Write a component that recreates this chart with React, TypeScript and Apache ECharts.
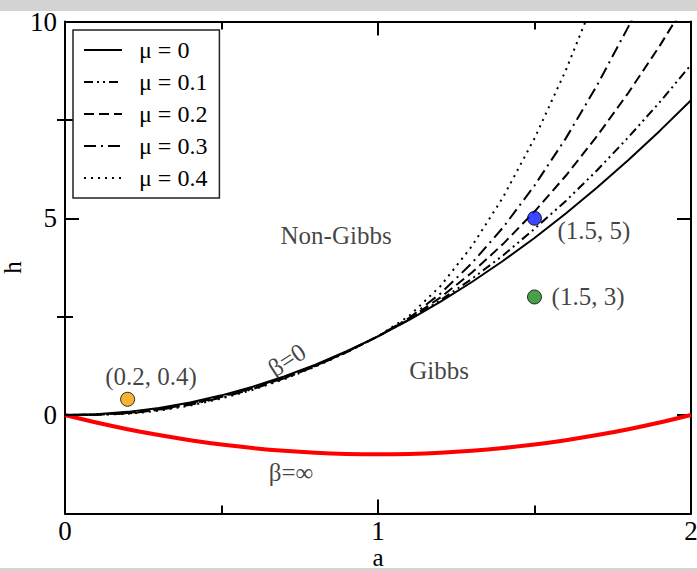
import React, { useEffect, useRef } from "react";
import * as echarts from "echarts";

// a values shared by all curves
const aValues = [0, 0.1, 0.2, 0.3, 0.4, 0.5, 0.6, 0.7, 0.8, 0.9, 1.0, 1.1, 1.2, 1.3, 1.4, 1.5, 1.6, 1.7, 1.8, 1.9, 2.0];

// beta = 0 boundary for several mu values
const hMu0 = [0, 0.02, 0.08, 0.18, 0.32, 0.5, 0.72, 0.98, 1.28, 1.62, 2.0, 2.42, 2.88, 3.38, 3.92, 4.5, 5.12, 5.78, 6.48, 7.22, 8.0];
const hMu1 = [0, 0.01, 0.06, 0.16, 0.30, 0.48, 0.70, 0.96, 1.26, 1.61, 2.0, 2.43, 2.92, 3.46, 4.06, 4.73, 5.44, 6.22, 7.06, 7.95, 8.9];
const hMu2 = [0, 0.01, 0.05, 0.14, 0.28, 0.46, 0.68, 0.94, 1.25, 1.60, 2.0, 2.45, 2.99, 3.62, 4.35, 5.17, 6.08, 7.09, 8.19, 9.38, 10.67];
const hMu3 = [0, 0.01, 0.04, 0.13, 0.26, 0.44, 0.66, 0.93, 1.24, 1.60, 2.0, 2.47, 3.09, 3.86, 4.77, 5.83, 7.03, 8.38, 9.87, 11.51, 13.3];
const hMu4 = [0, 0.005, 0.03, 0.11, 0.24, 0.42, 0.64, 0.91, 1.23, 1.59, 2.0, 2.52, 3.28, 4.29, 5.54, 7.03, 8.76, 10.73, 12.94];

// beta = infinity boundary
const hInf = [0, -0.19, -0.36, -0.51, -0.64, -0.75, -0.84, -0.91, -0.96, -0.99, -1.0, -0.99, -0.96, -0.91, -0.84, -0.75, -0.64, -0.51, -0.36, -0.19, 0];

const muNames = ["μ = 0", "μ = 0.1", "μ = 0.2", "μ = 0.3", "μ = 0.4"];

// sample points
const pointA = [0.2, 1.5, 1.5];
const pointH = [0.4, 5, 3];
const pointColors = ["#f5a000", "#0a1aff", "#1a8a1a"];

// annotations (data coordinates)
const noteTexts = ["Non-Gibbs", "Gibbs", "β=0", "β=∞", "(0.2, 0.4)", "(1.5, 5)", "(1.5, 3)"];
const noteA = [0.866, 1.195, 0.709, 0.722, 0.275, 1.69, 1.671];
const noteH = [4.57, 1.12, 1.40, -1.45, 0.97, 4.68, 3.0];
const noteRotate = [0, 0, 33, 0, 0, 0, 0];

const xMajorInterval = 1;
const yMajor = [0, 5, 10];
const yMinor = [2.5, 7.5];

const FONT = "'Liberation Serif', 'Times New Roman', serif";

export default function App() {
  const ref = useRef<HTMLDivElement>(null);

  useEffect(() => {
    if (!ref.current) return;
    const chart = echarts.init(ref.current, null, { renderer: "svg" });

    const black = { color: "#000", width: 2 };
    const pairs = (ys: number[]) => ys.map((y, i) => [aValues[i], y]);

    const muData = [hMu0, hMu1, hMu2, hMu3, hMu4];
    const muDash: any[] = ["solid", [9, 4, 2, 4, 2, 4], [10, 5], [12, 5, 2, 5], [2, 5]];

    const muSeries = muData.map((d, i) => ({
      type: "line",
      name: muNames[i],
      data: pairs(d),
      showSymbol: false,
      symbol: "emptyCircle",
      symbolSize: 0,
      clip: true,
      lineStyle: { color: "#000", width: 2, type: muDash[i] },
      itemStyle: { color: "rgba(0,0,0,0)", borderColor: "rgba(0,0,0,0)", borderWidth: 0 },
      z: 3,
    }));

    const yBase = {
      type: "value",
      min: -2.5,
      max: 10,
      splitLine: { show: false },
      axisLine: { show: true, onZero: false, lineStyle: black },
    };
    const xBase = {
      type: "value",
      min: 0,
      max: 2,
      interval: xMajorInterval,
      splitLine: { show: false },
      axisLine: { show: true, onZero: false, lineStyle: black },
      axisTick: { show: true, inside: true, length: 14, lineStyle: black },
      minorTick: { show: true, splitNumber: 2, length: 8, lineStyle: black },
    };

    const option: any = {
      animation: false,
      backgroundColor: "#fff",
      grid: { left: 65, right: 6, top: 21.5, bottom: 57.6, containLabel: false, outerBoundsMode: "none" },
      legend: {
        orient: "vertical",
        left: 73,
        top: 30,
        data: muNames,
        selectedMode: false,
        itemWidth: 38,
        itemHeight: 14,
        itemGap: 8,
        padding: [8, 12, 8, 10],
        borderColor: "#222",
        borderWidth: 1.5,
        backgroundColor: "#fff",
        itemStyle: { color: "rgba(0,0,0,0)", borderColor: "rgba(0,0,0,0)", borderWidth: 0, opacity: 0 },
        lineStyle: { color: "#000", width: 2 },
        textStyle: { fontFamily: FONT, fontSize: 24, color: "#000", lineHeight: 24, padding: [0, 0, 0, 12] },
      },
      xAxis: [
        {
          ...xBase,
          position: "bottom",
          axisLabel: { fontFamily: FONT, fontSize: 27, color: "#000", margin: 6, lineHeight: 24 },
          name: "a",
          nameLocation: "middle",
          nameGap: 36,
          nameMoveOverlap: false,
          nameTextStyle: { fontFamily: FONT, fontSize: 25, color: "#000", lineHeight: 16 },
        },
        { ...xBase, position: "top", axisLabel: { show: false } },
      ],
      yAxis: [
        {
          ...yBase,
          position: "left",
          axisTick: { show: true, inside: true, length: 14, lineStyle: black, customValues: yMajor },
          axisLabel: { fontFamily: FONT, fontSize: 27, color: "#000", margin: 8, customValues: yMajor },
          name: "h",
          nameLocation: "middle",
          nameGap: 45,
          nameMoveOverlap: false,
          nameTextStyle: { fontFamily: FONT, fontSize: 25, color: "#000", lineHeight: 16 },
        },
        {
          ...yBase,
          position: "left",
          axisLine: { show: false },
          axisTick: { show: true, inside: true, length: 8, lineStyle: black, customValues: yMinor },
          axisLabel: { show: false },
        },
        {
          ...yBase,
          position: "right",
          axisTick: { show: true, inside: true, length: 14, lineStyle: black, customValues: yMajor },
          axisLabel: { show: false },
        },
        {
          ...yBase,
          position: "right",
          axisLine: { show: false },
          axisTick: { show: true, inside: true, length: 8, lineStyle: black, customValues: yMinor },
          axisLabel: { show: false },
        },
      ],
      series: [
        ...muSeries,
        {
          type: "line",
          name: "β=∞",
          data: pairs(hInf),
          showSymbol: false,
          symbol: "none",
          smooth: 0.3,
          lineStyle: { color: "#ff0000", width: 4 },
          z: 2,
        },
        {
          type: "scatter",
          name: "points",
          data: pointA.map((a, i) => ({ value: [a, pointH[i]], itemStyle: { color: pointColors[i] } })),
          symbolSize: 14,
          itemStyle: { borderColor: "#000", borderWidth: 1 },
          z: 5,
        },
        {
          type: "scatter",
          name: "notes",
          silent: true,
          symbolSize: 1,
          itemStyle: { color: "rgba(0,0,0,0)" },
          data: noteTexts.map((t, i) => ({
            value: [noteA[i], noteH[i]],
            label: {
              show: true,
              formatter: t,
              position: "inside",
              rotate: noteRotate[i],
              fontFamily: FONT,
              fontSize: 25,
              color: "#111",
              align: "center",
              verticalAlign: "middle",
            },
          })),
          z: 6,
        },
      ],
      graphic: [
        { type: "rect", shape: { x: 0, y: 0, width: 697, height: 11 }, style: { fill: "#d3d3d3" }, z: 100 },
        { type: "rect", shape: { x: 0, y: 568, width: 697, height: 3 }, style: { fill: "#d3d3d3" }, z: 100 },
      ],
    };

    chart.setOption(option);
    return () => chart.dispose();
  }, []);

  return (
    <div
      ref={ref}
      style={{ position: "fixed", left: 0, top: 0, width: 697, height: 571, background: "#fff" }}
    />
  );
}
